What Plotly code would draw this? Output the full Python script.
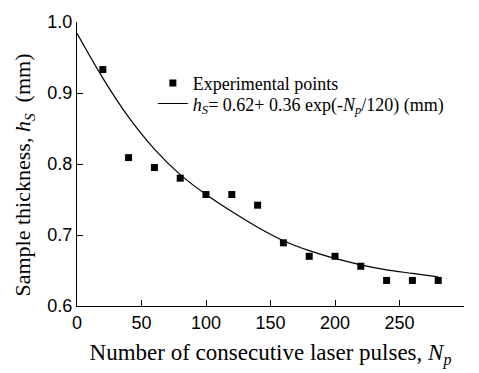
import plotly.graph_objects as go

# Experimental points
pulses = [20, 40, 60, 80, 100, 120, 140, 160, 180, 200, 220, 240, 260, 280]
thickness = [0.933, 0.809, 0.795, 0.780, 0.757, 0.757, 0.742, 0.689,
             0.670, 0.670, 0.656, 0.636, 0.636, 0.636]

# Fitted curve as drawn in the chart
fit_x = [0, 20, 40, 60, 80, 100, 120, 140, 160, 180, 200, 220, 240, 260, 280]
fit_y = [0.984, 0.921, 0.866, 0.821, 0.785, 0.757, 0.733, 0.711, 0.692,
         0.678, 0.667, 0.658, 0.651, 0.646, 0.641]

x_ticks = [0, 50, 100, 150, 200, 250, 300]
y_ticks = [0.6, 0.7, 0.8, 0.9, 1.0]

serif = "Liberation Serif, Times New Roman, serif"
sans = "Liberation Sans, Arial, sans-serif"

fig = go.Figure()
fig.add_trace(go.Scatter(
    x=pulses, y=thickness, mode="markers",
    marker=dict(symbol="square", size=7, color="black"),
    name="Experimental points", legend="legend",
))
fig.add_trace(go.Scatter(
    x=fit_x, y=fit_y, mode="lines", line_shape="spline",
    line=dict(color="black", width=1.2),
    name="<i>h</i><sub><i>S</i></sub>= 0.62+ 0.36 exp(-<i>N</i><sub><i>p</i></sub>/120) (mm)",
    legend="legend2",
))

leg_font = dict(family=serif, size=18, color="black")
fig.update_layout(
    width=479, height=373,
    margin=dict(l=77, r=15, t=18, b=63),
    paper_bgcolor="white", plot_bgcolor="white",
    showlegend=True,
    legend=dict(x=0.196, y=0.784, xanchor="left", yanchor="middle",
                bgcolor="rgba(0,0,0,0)", font=leg_font),
    legend2=dict(x=0.196, y=0.712, xanchor="left", yanchor="middle",
                 bgcolor="rgba(0,0,0,0)", font=leg_font),
    annotations=[dict(
        text="Sample thickness, <i>h</i><sub><i>S</i></sub>  (mm)",
        xref="paper", yref="paper", x=-0.137, y=0.463,
        xanchor="center", yanchor="middle", textangle=-90, showarrow=False,
        font=dict(family=serif, size=22, color="black"),
    )],
)
fig.update_xaxes(
    range=[0, 300], tickvals=x_ticks, ticktext=[str(v) for v in x_ticks],
    showgrid=False, zeroline=False, showline=True, linecolor="black", linewidth=1.3,
    ticks="inside", ticklen=6, tickwidth=1.2, tickcolor="black",
    tickfont=dict(family=sans, size=18, color="black"),
    title=dict(text="Number of consecutive laser pulses, <i>N</i><sub><i>p</i></sub>",
               font=dict(family=serif, size=23, color="black"), standoff=12),
)
fig.update_yaxes(
    range=[0.6, 1.0], tickvals=y_ticks, ticktext=["%.1f" % v for v in y_ticks],
    showgrid=False, zeroline=False, showline=True, linecolor="black", linewidth=1.3,
    ticks="inside", ticklen=6, tickwidth=1.2, tickcolor="black",
    tickfont=dict(family=sans, size=18, color="black"),
)

fig.write_html("out.html")
